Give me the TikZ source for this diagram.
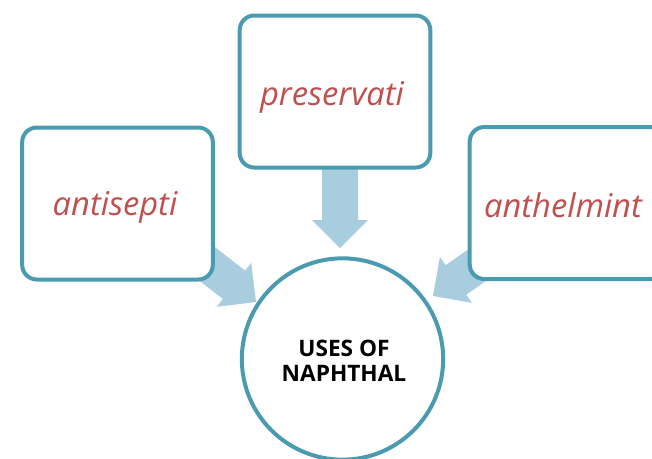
\documentclass[tikz,border=0pt]{standalone}
\usepackage{fontspec}
\setmainfont{Open Sans}
\definecolor{rim}{RGB}{74,155,176}
\definecolor{flow}{RGB}{168,205,222}
\definecolor{usetext}{RGB}{192,80,77}
\tikzset{
  usebox/.style={draw=rim, line width=3pt, fill=white, rounded corners=11pt,
    minimum width=143pt, minimum height=114pt, inner sep=0pt},
  uselabel/.style={inner sep=0pt, text=usetext,
    font=\fontsize{24.5}{28}\selectfont\itshape},
  hub/.style={circle, draw=rim, line width=3pt, fill=white, minimum size=151pt,
    inner sep=0pt},
  hublabel/.style={align=center, inner sep=0pt,
    font=\fontsize{17}{19}\selectfont\bfseries},
  flowarrow/.style={fill=flow, draw=none}
}
% block arrow: tip at the local origin, pointing along +x
\newcommand{\blockarrow}[3]{%
  \begin{scope}[shift={#1}, rotate=#2]
    \fill[flowarrow] (0,0) -- (-28,-28) -- (-28,-18) -- (-#3,-18)
      -- (-#3,18) -- (-28,18) -- (-28,28) -- cycle;
  \end{scope}}
\begin{document}
\begin{tikzpicture}[x=0.75pt, y=-0.75pt]
  \useasboundingbox (0,0) rectangle (652,458);
  \clip (0,0) rectangle (652,458);

  % arrows from each use toward the hub
  \coordinate (tipT) at (340,248);
  \coordinate (tipL) at (256,302);
  \coordinate (tipR) at (433,296);
  \blockarrow{(tipT)}{-90}{85}
  \blockarrow{(tipL)}{-38}{85}
  \blockarrow{(tipR)}{-145}{85}

  % the three uses
  \node[usebox] (left)  at (117.5,203.5) {};
  \node[usebox] (top)   at (335,91.5)    {};
  \node[usebox, minimum width=146pt] (right) at (567,203) {};
  \node[uselabel] (leftlbl)  at (115,207) {antisepti};
  \node[uselabel] (toplbl)   at (332,97)  {preservati};
  \node[uselabel] (rightlbl) at (563,205) {anthelmint};

  % central hub
  \node[hub] (hub) at (342.5,359) {};
  \node[hublabel] (hublbl) at (344,361) {USES OF\\NAPHTHAL};
\end{tikzpicture}
\end{document}
